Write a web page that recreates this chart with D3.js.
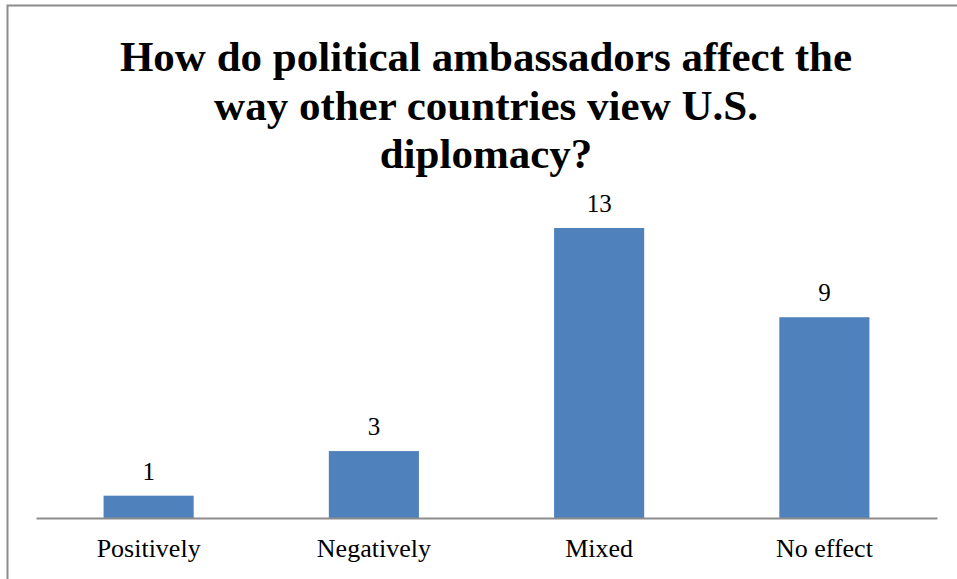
<!DOCTYPE html>
<html>
<head>
<meta charset="utf-8">
<script src="https://cdn.jsdelivr.net/npm/d3@7"></script>
<style>
  html, body { margin: 0; padding: 0; background: #fff; }
  svg { display: block; }
</style>
</head>
<body>
<svg id="chart" width="957" height="579"></svg>
<script>
// Survey responses
const categories = ["Positively", "Negatively", "Mixed", "No effect"];
const counts = [1, 3, 13, 9];
const titleLines = [
  "How do political ambassadors affect the",
  "way other countries view U.S.",
  "diplomacy?"
];

const serif = '"Liberation Serif", "Times New Roman", serif';
const svg = d3.select("#chart");

// chart frame (left and top edges)
svg.append("path")
  .attr("d", "M7.5,579 L7.5,5.5 L957,5.5")
  .attr("fill", "none")
  .attr("stroke", "#8c8c8c")
  .attr("stroke-width", 2);

const plot = { left: 36, right: 937, bottom: 518 };

const x = d3.scaleBand()
  .domain(categories)
  .range([plot.left, plot.right])
  .paddingInner(0)
  .paddingOuter(0);

const y = d3.scaleLinear()
  .domain([0, 13])
  .range([plot.bottom, plot.bottom - 290]);

const barW = x.bandwidth() * 0.4;

// bars
svg.append("g").selectAll("rect")
  .data(categories)
  .join("rect")
  .attr("x", (d) => x(d) + (x.bandwidth() - barW) / 2)
  .attr("y", (d, i) => y(counts[i]))
  .attr("width", barW)
  .attr("height", (d, i) => y(0) - y(counts[i]))
  .attr("fill", "#4f81bd");

// value labels
svg.append("g").selectAll("text")
  .data(categories)
  .join("text")
  .attr("x", (d) => x(d) + x.bandwidth() / 2)
  .attr("y", (d, i) => y(counts[i]) - 16)
  .attr("text-anchor", "middle")
  .style("font-family", serif)
  .style("font-size", "25px")
  .attr("fill", "#000")
  .text((d, i) => counts[i]);

// category axis
const xAxis = svg.append("g")
  .attr("transform", `translate(0,${plot.bottom})`)
  .call(d3.axisBottom(x).tickSize(0).tickPadding(21));
xAxis.select(".domain").attr("stroke", "#8c8c8c").attr("stroke-width", 2);
xAxis.selectAll("text")
  .style("font-family", serif)
  .style("font-size", "26px")
  .attr("fill", "#000");

// title
const title = svg.append("text")
  .attr("text-anchor", "middle")
  .style("font-family", serif)
  .style("font-weight", "bold")
  .style("font-size", "43px")
  .attr("fill", "#000");
title.selectAll("tspan")
  .data(titleLines)
  .join("tspan")
  .attr("x", 486)
  .attr("y", (d, i) => 71 + i * 48.5)
  .text((d) => d);
</script>
</body>
</html>
